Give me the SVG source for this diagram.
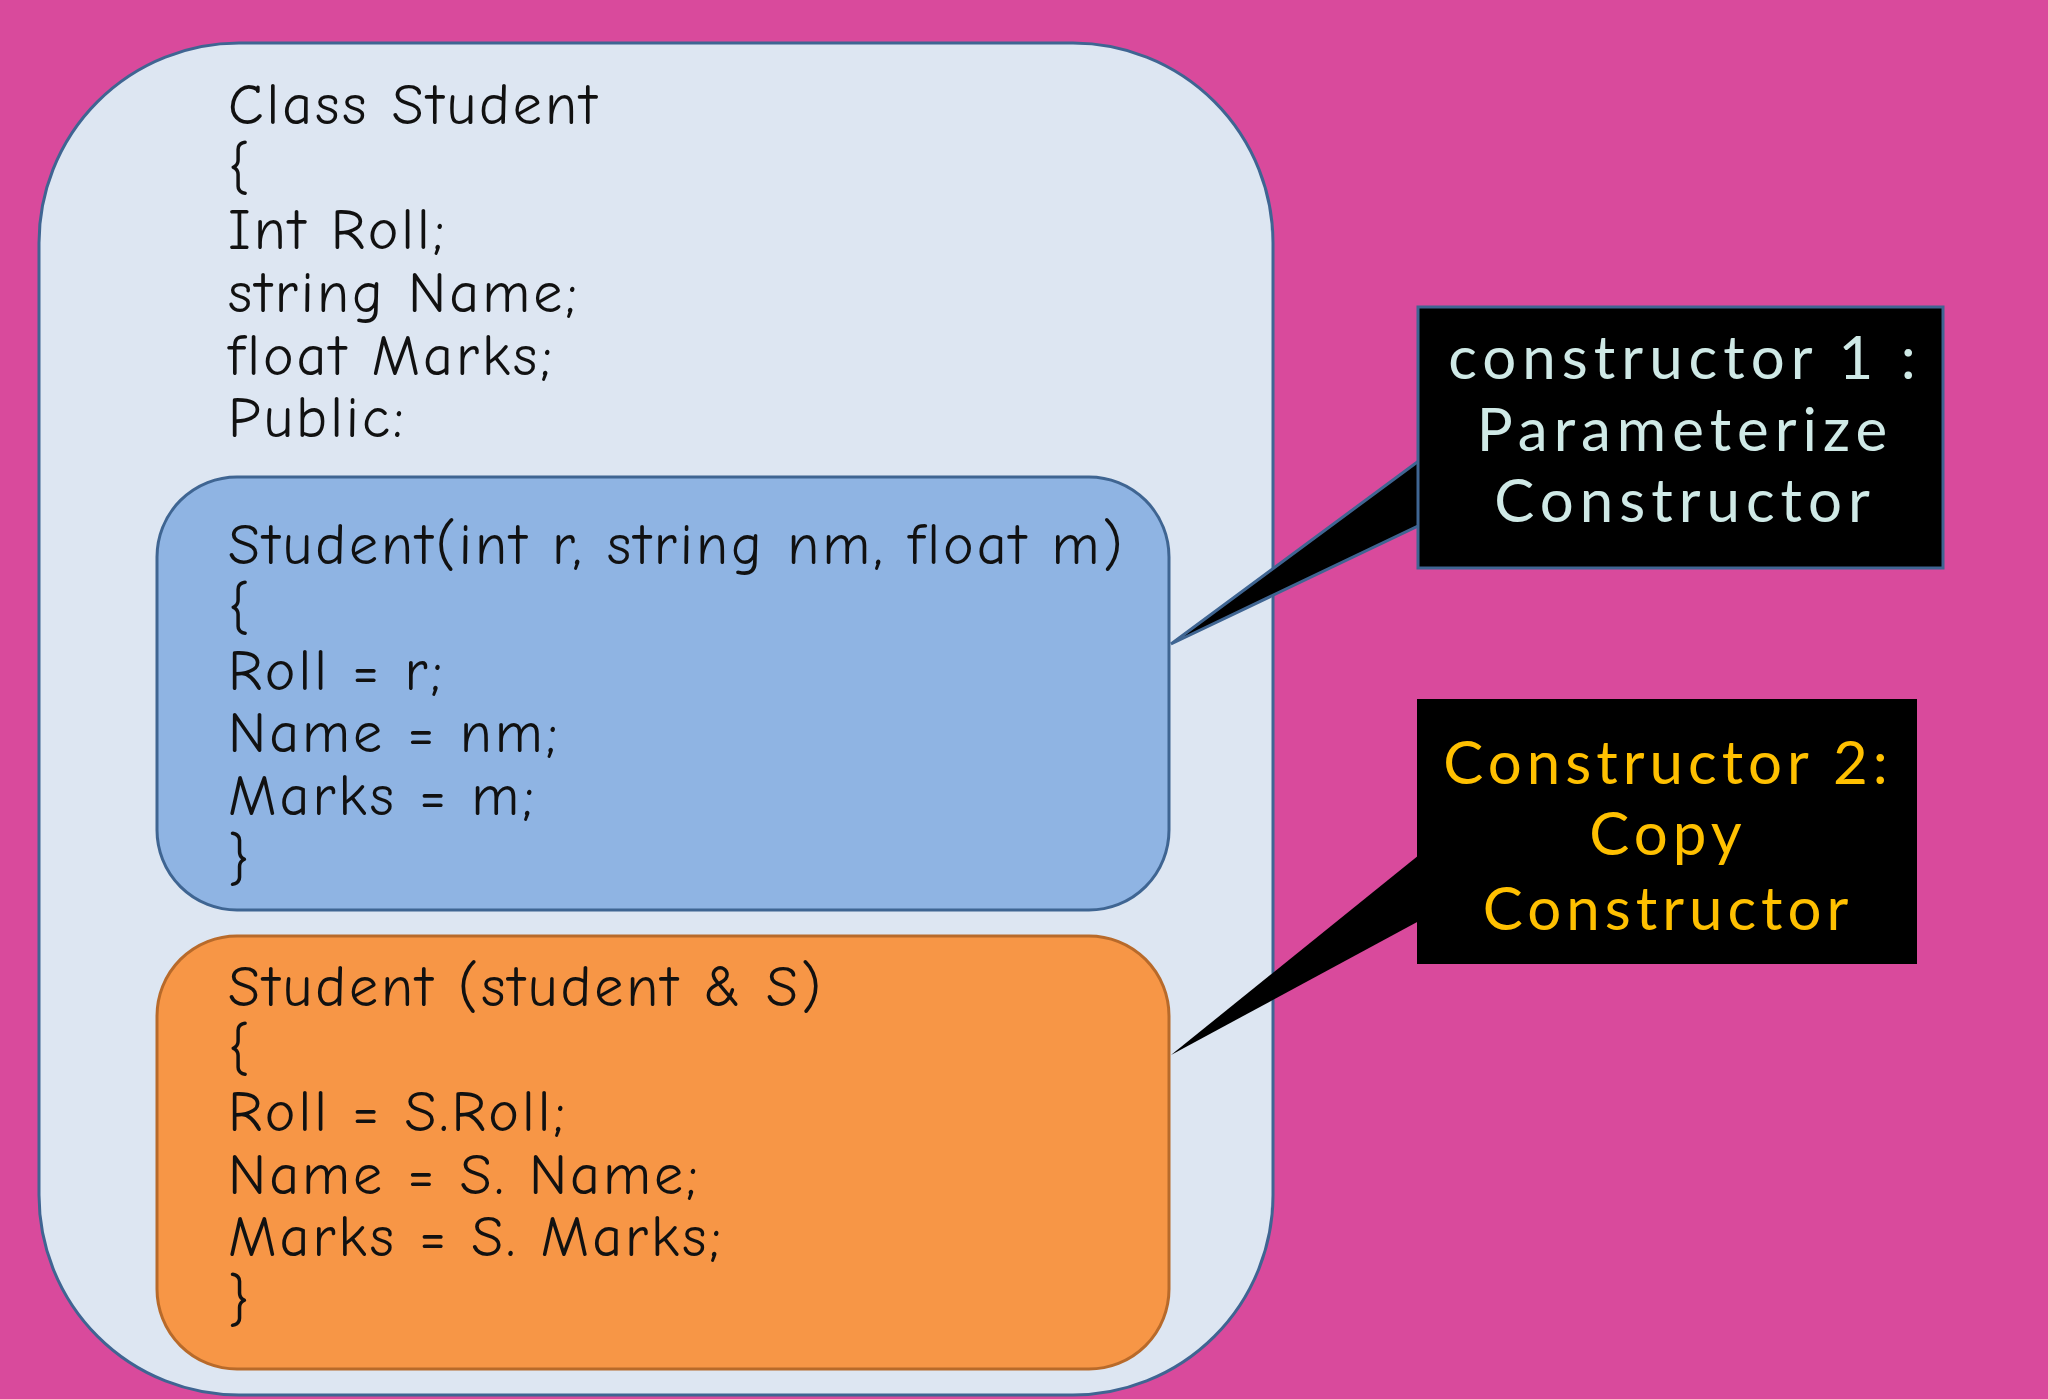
<svg xmlns="http://www.w3.org/2000/svg" width="2048" height="1399" viewBox="0 0 2048 1399">
<style>
.code{font-family:"Comic Neue","Lato","DejaVu Sans",sans-serif;font-size:58px;letter-spacing:3px;fill:#111}
.c1{font-family:"Lato","DejaVu Sans",sans-serif;font-size:60px;letter-spacing:6px;fill:#cfe9e6;text-anchor:middle}
.c2{font-family:"Lato","DejaVu Sans",sans-serif;font-size:60px;letter-spacing:5px;fill:#ffc000;text-anchor:middle}
</style>
<rect width="2048" height="1399" fill="#d94a9c"/>
<g id="outer"><rect x="39" y="43" width="1234" height="1352" rx="200" fill="#dde6f2" stroke="#3f6592" stroke-width="3"/>
<text class="code" x="228" y="124">Class Student</text>
<text class="code" x="228" y="187">{</text>
<text class="code" x="228" y="249">Int Roll;</text>
<text class="code" x="228" y="312">string Name;</text>
<text class="code" x="228" y="375">float Marks;</text>
<text class="code" x="228" y="437">Public:</text></g>
<g id="blue"><rect x="157" y="477" width="1012" height="433" rx="80" fill="#8fb4e3" stroke="#3f6592" stroke-width="3"/>
<text class="code" x="228" y="564">Student(int r, string nm, float m)</text>
<text class="code" x="228" y="627">{</text>
<text class="code" x="228" y="690">Roll = r;</text>
<text class="code" x="228" y="752">Name = nm;</text>
<text class="code" x="228" y="815">Marks = m;</text>
<text class="code" x="228" y="878">}</text></g>
<g id="orange"><rect x="157" y="936" width="1012" height="433" rx="80" fill="#f79646" stroke="#b86a2a" stroke-width="3"/>
<text class="code" x="228" y="1006">Student (student &amp; S)</text>
<text class="code" x="228" y="1068">{</text>
<text class="code" x="228" y="1131">Roll = S.Roll;</text>
<text class="code" x="228" y="1194">Name = S. Name;</text>
<text class="code" x="228" y="1256">Marks = S. Marks;</text>
<text class="code" x="228" y="1319">}</text></g>
<g id="connectors">
<polygon points="1420,460 1420,525 1171,644" fill="#000" stroke="#3f6592" stroke-width="3"/>
<polygon points="1419,855 1419,921 1171,1055" fill="#000"/>
</g>
<g id="callout1"><rect x="1418" y="307" width="525" height="261" fill="#000" stroke="#3f6592" stroke-width="3"/>
<text class="c1" x="1685" y="379">constructor 1 :</text>
<text class="c1" x="1685" y="451">Parameterize</text>
<text class="c1" x="1685" y="522">Constructor</text></g>
<g id="callout2"><rect x="1417" y="699" width="500" height="265" fill="#000"/>
<text class="c2" x="1668" y="784">Constructor 2:</text>
<text class="c2" x="1668" y="855">Copy</text>
<text class="c2" x="1668" y="930">Constructor</text></g>
</svg>
